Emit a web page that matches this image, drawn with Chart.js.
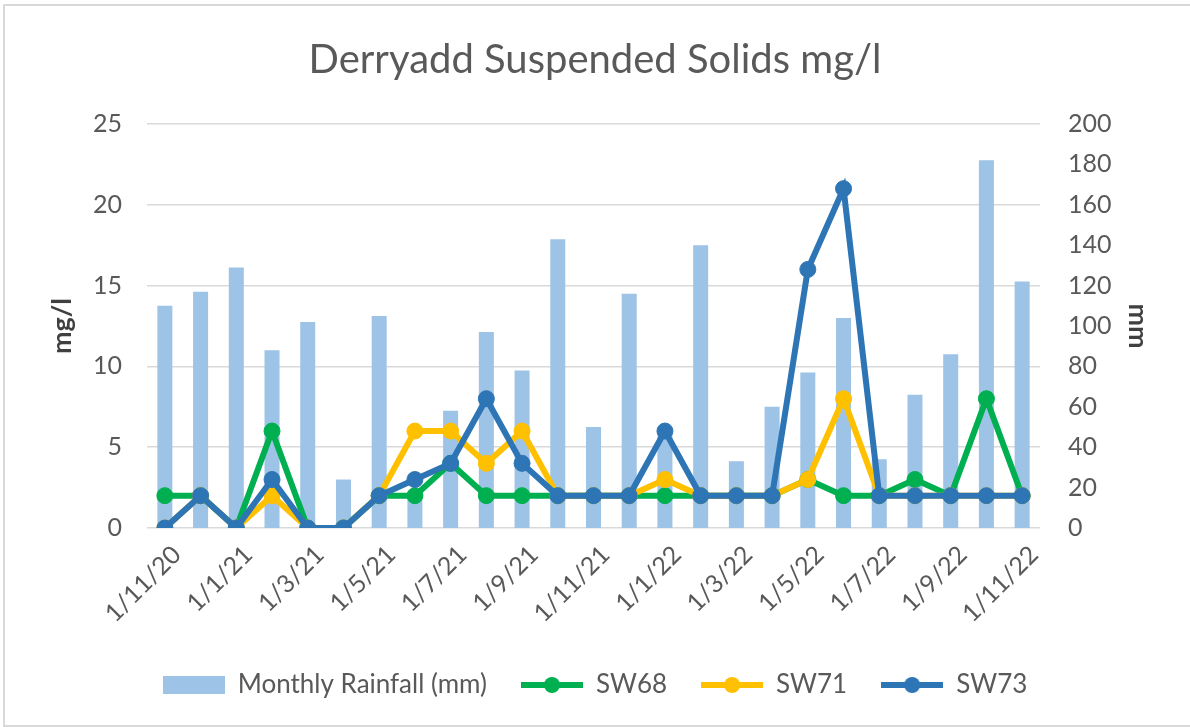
<!DOCTYPE html>
<html>
<head>
<meta charset="utf-8">
<script src="https://cdn.jsdelivr.net/npm/chart.js@4.4.1/dist/chart.umd.min.js"></script>
<style>
body{margin:0;background:#fff;}
#wrap{position:relative;width:1190px;height:727px;overflow:hidden;}
#frame{position:absolute;left:3px;top:4px;width:1200px;height:719px;border:2px solid #d9d9d9;border-right:none;pointer-events:none;}
</style>
</head>
<body>
<div id="wrap"><canvas id="chart" width="1190" height="727"></canvas><div id="frame"></div></div>
<script>
// monthly samples, 1/11/20 .. 1/11/22
let months=['1/11/20','1/12/20','1/1/21','1/2/21','1/3/21','1/4/21','1/5/21','1/6/21','1/7/21','1/8/21','1/9/21','1/10/21','1/11/21',
  '1/12/21','1/1/22','1/2/22','1/3/22','1/4/22','1/5/22','1/6/22','1/7/22','1/8/22','1/9/22','1/10/22','1/11/22'];
let rainfall=[110,117,129,88,102,24,105,14,58,97,78,143,50,116,48,140,33,60,77,104,34,66,86,182,122];
let sw68=[2,2,0,6,0,0,2,2,4,2,2,2,2,2,2,2,2,2,3,2,2,3,2,8,2];
let sw71=[0,2,0,2,0,0,2,6,6,4,6,2,2,2,3,2,2,2,3,8,2,2,2,2,2];
let sw73=[0,2,0,3,0,0,2,3,4,8,4,2,2,2,6,2,2,2,16,21,2,2,2,2,2];

let FONT='Lato, "Liberation Sans", sans-serif';
let TXT='#595959';

function legendIcon(ds){
  let c=document.createElement('canvas');
  c.width=62; c.height=18;
  let g=c.getContext('2d');
  if(ds.type==='line'){
    g.strokeStyle=ds.borderColor; g.lineWidth=6;
    g.beginPath(); g.moveTo(0,9); g.lineTo(62,9); g.stroke();
    g.fillStyle=ds.borderColor;
    g.beginPath(); g.arc(31,9,8,0,Math.PI*2); g.fill();
  } else {
    g.fillStyle=ds.backgroundColor; g.fillRect(0,0,62,18);
  }
  return c;
}

function lineSet(label,data,color,order){
  return {type:'line',label:label,data:data,yAxisID:'y',order:order,
    borderColor:color,backgroundColor:color,borderWidth:6,
    pointRadius:8,pointHoverRadius:8,pointBackgroundColor:color,pointBorderColor:color,pointBorderWidth:1,
    tension:0,fill:false};
}

let ctx=document.getElementById('chart').getContext('2d');
let myChart=new Chart(ctx,{
  type:'bar',
  data:{
    labels:months,
    datasets:[
      {type:'bar',label:'Monthly Rainfall (mm)',data:rainfall,yAxisID:'y1',order:4,
        backgroundColor:'#9dc3e6',barPercentage:0.42,categoryPercentage:1},
      lineSet('SW68',sw68,'#00b050',3),
      lineSet('SW71',sw71,'#ffc000',2),
      lineSet('SW73',sw73,'#2e75b6',1)
    ]
  },
  options:{
    responsive:false,
    animation:false,
    layout:{padding:{left:0,right:0,top:0,bottom:19}},
    scales:{
      x:{
        offset:true,
        grid:{display:false},
        border:{display:false},
        ticks:{autoSkip:false,maxRotation:45,minRotation:45,color:TXT,padding:4,labelOffset:12,
          font:{family:FONT,size:25},
          callback:function(v,i){return i%2===0?this.getLabelForValue(v):'';}},
        afterFit:function(s){s.height=110;}
      },
      y:{
        position:'left',min:0,max:25,
        ticks:{stepSize:5,color:TXT,padding:25,font:{family:FONT,size:25}},
        grid:{color:'#d9d9d9',lineWidth:1.5,drawTicks:false},
        border:{display:false},
        title:{display:true,text:'mg/l',color:'#404040',font:{family:FONT,size:27,weight:'bold'},padding:{top:46,bottom:0}},
        afterFit:function(s){s.width=147;}
      },
      y1:{
        position:'right',min:0,max:200,
        ticks:{stepSize:20,color:TXT,padding:28,font:{family:FONT,size:25}},
        grid:{display:false,drawTicks:false},
        border:{display:false},
        title:{display:true,text:'mm',color:'#404040',font:{family:FONT,size:27,weight:'bold'},padding:{top:36,bottom:0}},
        afterFit:function(s){s.width=150;}
      }
    },
    plugins:{
      title:{display:true,text:'Derryadd Suspended Solids mg/l',color:TXT,
        font:{family:FONT,size:40,weight:'normal'},padding:{top:36,bottom:40}},
      legend:{
        position:'bottom',
        labels:{
          usePointStyle:true,pointStyleWidth:62,boxHeight:18,padding:34,
          color:TXT,font:{family:FONT,size:26},
          generateLabels:function(chart){
            return chart.data.datasets.map(function(ds,i){
              return {text:ds.label,pointStyle:legendIcon(ds),fillStyle:ds.backgroundColor,
                strokeStyle:ds.borderColor,lineWidth:0,hidden:false,datasetIndex:i,fontColor:TXT};
            });
          }
        }
      },
      tooltip:{enabled:false}
    }
  }
});
</script>
</body>
</html>
